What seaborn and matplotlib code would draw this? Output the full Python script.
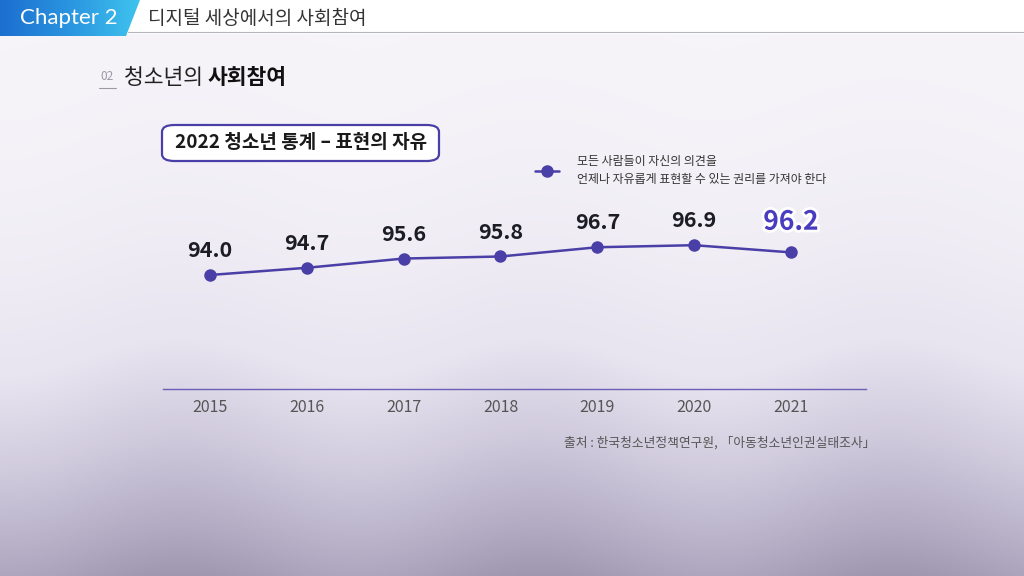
import numpy as np
import pandas as pd
import matplotlib.pyplot as plt
import matplotlib.patheffects as pe
from matplotlib.patches import FancyBboxPatch, Polygon
from matplotlib.colors import LinearSegmentedColormap
import seaborn as sns

# data
years = [2015, 2016, 2017, 2018, 2019, 2020, 2021]
values = [94.0, 94.7, 95.6, 95.8, 96.7, 96.9, 96.2]
value_labels = ["94.0", "94.7", "95.6", "95.8", "96.7", "96.9", "96.2"]
series_name = "모든 사람들이 자신의 의견을\n언제나 자유롭게 표현할 수 있는 권리를 가져야 한다"

sns.set_theme(style="white")
plt.rcParams['font.family'] = ['Noto Sans CJK KR', 'DejaVu Sans']

LINE = "#4a3fa6"
fig = plt.figure(figsize=(10.24, 5.76), dpi=100)

# background gradient (decoration only)
bg = fig.add_axes([0, 0, 1, 1])
bg.set_axis_off()
g = np.linspace(0, 1, 256).reshape(-1, 1)
h = np.linspace(0, 1, 256).reshape(1, -1)
shade = 0.55 * g ** 2.2 + 0.08 * np.sin(h * 9) ** 2 * g
cmap = LinearSegmentedColormap.from_list("bgc", ["#f6f4f9", "#e8e4f0", "#c2bcd2", "#9c94ad"])
bg.imshow(shade, cmap=cmap, aspect="auto", extent=[0, 1, 0, 1], vmin=0, vmax=0.65, origin="upper")
bg.set_xlim(0, 1)
bg.set_ylim(0, 1)

# header bar
bg.add_patch(plt.Rectangle((0, 1 - 33 / 576), 1, 33 / 576, color="white", zorder=2))
bg.plot([128 / 1024, 1], [1 - 32 / 576] * 2, color="#b5b5bd", lw=0.8, zorder=3)
tab = Polygon([[0, 1], [140 / 1024, 1], [126 / 1024, 1 - 36 / 576], [0, 1 - 36 / 576]],
              closed=True, fc="none", ec="none", zorder=3)
bg.add_patch(tab)
tab_cmap = LinearSegmentedColormap.from_list("tab", ["#1c6fcf", "#2a95e0", "#3fc3ee"])
grad = bg.imshow(np.linspace(0, 1, 128).reshape(1, -1), cmap=tab_cmap, aspect="auto",
                 extent=[0, 140 / 1024, 1 - 36 / 576, 1], zorder=3)
grad.set_clip_path(tab)
bg.text(20 / 1024, 1 - 18 / 576, "Chapter 2", color="white", fontsize=16,
        va="center", ha="left", family=["Lato", "DejaVu Sans"], zorder=4)
bg.text(148 / 1024, 1 - 18 / 576, "디지털 세상에서의 사회참여", color="#333333", fontsize=13.7,
        va="center", ha="left", zorder=4)

# section title
bg.text(100 / 1024, 1 - 76 / 576, "02", color="#9a9aa5", fontsize=8.5, va="center", ha="left")
bg.plot([99 / 1024, 116 / 1024], [1 - 88 / 576] * 2, color="#9a9aa5", lw=0.8)
t1 = bg.text(124 / 1024, 1 - 78 / 576, "청소년의 ", color="#222222", fontsize=15.5,
             va="center", ha="left", fontweight="medium")
bg.annotate("사회참여", xycoords=t1, xy=(1, 0.5), va="center", ha="left",
            color="#111111", fontsize=15.5, fontweight="bold")

# title box
bg.add_patch(FancyBboxPatch((162 / 1024, 1 - 161 / 576), 277 / 1024, 36 / 576,
                            boxstyle="round,pad=0,rounding_size=0.012",
                            fc="white", ec=LINE, lw=1.6, zorder=3))
bg.text(301 / 1024, 1 - 143 / 576, "2022 청소년 통계 – 표현의 자유", color="#1a1a1a",
        fontsize=13.7, fontweight="bold", va="center", ha="center", zorder=4)

# source
bg.text(875 / 1024, 1 - 443 / 576, "출처 : 한국청소년정책연구원, 「아동청소년인권실태조사」",
        color="#555555", fontsize=9.2, va="center", ha="right")

# chart
ax = fig.add_axes([163 / 1024, 1 - 389 / 576, 703 / 1024, 189 / 576])
ax.patch.set_alpha(0)
df = pd.DataFrame({"year": years, "value": values})
sns.lineplot(data=df, x="year", y="value", ax=ax, color=LINE, lw=1.8,
             marker="o", markersize=9, markeredgewidth=0, label=series_name)
ax.set_xlim(2014.515, 2021.775)
ax.set_ylim(82.9, 101.3)
for s in ["top", "right", "left"]:
    ax.spines[s].set_visible(False)
ax.spines["bottom"].set_color("#6a60b8")
ax.spines["bottom"].set_linewidth(1.0)
ax.set_yticks([])
ax.set_xticks(years)
ax.set_xticklabels([str(y) for y in years], color="#555555", fontsize=11.5)
ax.tick_params(axis="x", length=0, pad=7)
ax.set_xlabel("")
ax.set_ylabel("")

for i, (x, y, lab) in enumerate(zip(years, values, value_labels)):
    if i == len(years) - 1:
        t = ax.annotate(lab, (x, y), xytext=(0, 12), textcoords="offset points",
                        ha="center", va="bottom", fontsize=19, fontweight="bold", color="#4a3cc0")
        t.set_path_effects([pe.withStroke(linewidth=4, foreground="white")])
    else:
        ax.annotate(lab, (x, y), xytext=(0, 10), textcoords="offset points",
                    ha="center", va="bottom", fontsize=15.5, fontweight="bold", color="#1c1c24")

leg = ax.legend(loc="upper left", bbox_to_anchor=(372 / 703, 1.24), frameon=False,
                fontsize=8.6, handlelength=2.0, handletextpad=1.5,
                borderpad=0, borderaxespad=0)
for txt in leg.get_texts():
    txt.set_color("#333333")
    txt.set_linespacing(1.5)

fig.savefig("out.png", dpi=100)
